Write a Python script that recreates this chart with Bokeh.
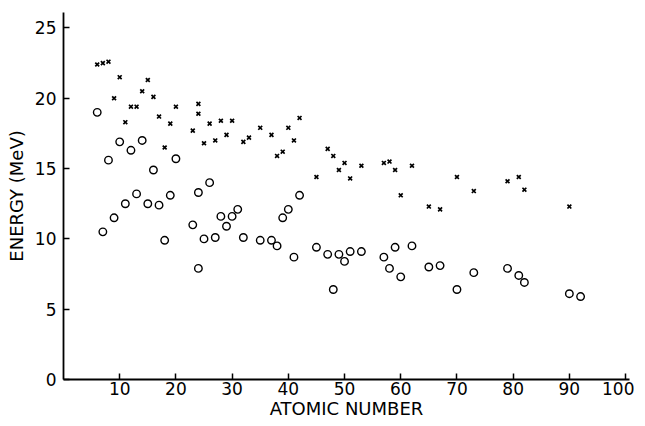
from bokeh.plotting import figure
from bokeh.models import Range1d, FixedTicker
from bokeh.embed import file_html
from bokeh.resources import INLINE

# upper series (crosses)
z_cross = [6, 7, 8, 9, 10, 11, 12, 13, 14, 15, 16, 17, 18, 19, 20, 23, 24, 24, 25, 26,
           27, 28, 29, 30, 32, 33, 35, 37, 38, 39, 40, 41, 42, 45, 47, 48, 49, 50, 51, 53,
           57, 58, 59, 60, 62, 65, 67, 70, 73, 79, 81, 82, 90]
e_cross = [22.4, 22.5, 22.6, 20.0, 21.5, 18.3, 19.4, 19.4, 20.5, 21.3, 20.1, 18.7, 16.5, 18.2,
           19.4, 17.7, 19.6, 18.9, 16.8, 18.2, 17.0, 18.4, 17.4, 18.4, 16.9, 17.2, 17.9, 17.4,
           15.9, 16.2, 17.9, 17.0, 18.6, 14.4, 16.4, 15.9, 14.9, 15.4, 14.3, 15.2, 15.4, 15.5,
           14.9, 13.1, 15.2, 12.3, 12.1, 14.4, 13.4, 14.1, 14.4, 13.5, 12.3]

# lower series (open circles)
z_circ = [6, 7, 8, 9, 10, 11, 12, 13, 14, 15, 16, 17, 18, 19, 20, 23, 24, 24, 25, 26,
          27, 28, 29, 30, 31, 32, 35, 37, 38, 39, 40, 41, 42, 45, 47, 48, 49, 50, 51, 53,
          57, 58, 59, 60, 62, 65, 67, 70, 73, 79, 81, 82, 90, 92]
e_circ = [19.0, 10.5, 15.6, 11.5, 16.9, 12.5, 16.3, 13.2, 17.0, 12.5, 14.9, 12.4, 9.9, 13.1,
          15.7, 11.0, 13.3, 7.9, 10.0, 14.0, 10.1, 11.6, 10.9, 11.6, 12.1, 10.1, 9.9, 9.9,
          9.5, 11.5, 12.1, 8.7, 13.1, 9.4, 8.9, 6.4, 8.9, 8.4, 9.1, 9.1, 8.7, 7.9, 9.4, 7.3,
          9.5, 8.0, 8.1, 6.4, 7.6, 7.9, 7.4, 6.9, 6.1, 5.9]

x_ticks = [10, 20, 30, 40, 50, 60, 70, 80, 90, 100]
y_ticks = [0, 5, 10, 15, 20, 25]

FONT = "DejaVu Sans"

p = figure(width=634, height=421, output_backend="svg", toolbar_location=None,
           x_range=Range1d(0, 100.7), y_range=Range1d(0, 26.1),
           min_border_left=63, min_border_right=5, min_border_top=12, min_border_bottom=0)
p.outline_line_color = None
p.grid.grid_line_color = None
p.background_fill_color = "white"

p.scatter(z_cross, e_cross, marker="x", size=5.5, line_color="black", line_width=1.7)
p.scatter(z_circ, e_circ, marker="circle", size=7.5, fill_color=None,
          line_color="black", line_width=1.4)

for ax in (p.xaxis[0], p.yaxis[0]):
    ax.axis_line_color = "black"
    ax.axis_line_width = 1.8
    ax.major_tick_line_color = "black"
    ax.major_tick_line_width = 1.5
    ax.major_tick_in = 6
    ax.major_tick_out = 0
    ax.minor_tick_line_color = None
    ax.major_label_text_font = FONT
    ax.major_label_text_font_size = "17px"
    ax.major_label_text_color = "black"
    ax.axis_label_text_font = FONT
    ax.axis_label_text_font_size = "18px"
    ax.axis_label_text_font_style = "normal"
    ax.axis_label_text_color = "black"

p.xaxis.ticker = FixedTicker(ticks=x_ticks)
p.yaxis.ticker = FixedTicker(ticks=y_ticks)
p.xaxis.axis_label = "ATOMIC NUMBER"
p.yaxis.axis_label = "ENERGY (MeV)"
p.xaxis.major_label_standoff = 2
p.xaxis.axis_label_standoff = 0
p.yaxis.major_label_standoff = 7
p.yaxis.axis_label_standoff = 5

open("out.html", "w").write(file_html(p, INLINE))
